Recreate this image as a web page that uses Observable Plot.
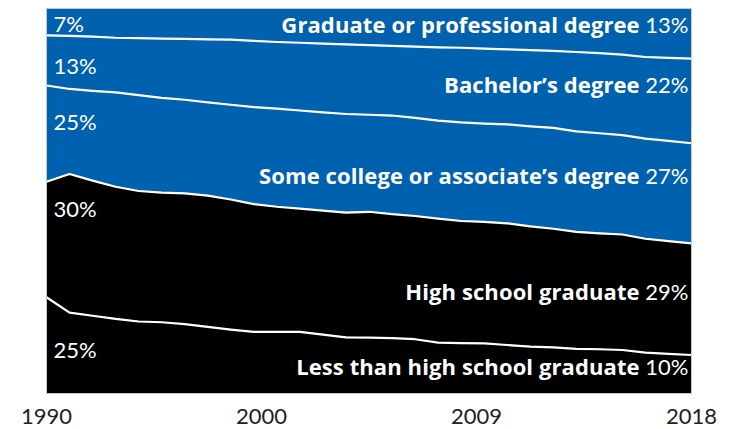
<!DOCTYPE html>
<html><head><meta charset="utf-8">
<script src="https://cdn.jsdelivr.net/npm/d3@7"></script>
<script src="https://cdn.jsdelivr.net/npm/@observablehq/plot@0.6"></script>
<style>
html,body{margin:0;padding:0;background:#fff;}
#chart svg{display:block;}
</style></head><body><div id="chart"></div>
<script>
const years = [1990,1991,1992,1993,1994,1995,1996,1997,1998,1999,2000,2001,2002,2003,2004,2005,2006,2007,2008,2009,2010,2011,2012,2013,2014,2015,2016,2017,2018];
const categories = ["Less than high school graduate","High school graduate","Some college or associate’s degree","Bachelor’s degree","Graduate or professional degree"];
const lessThanHS  = [25.0,21.0,20.2,19.4,18.7,18.5,18.0,17.3,16.6,16.0,16.0,16.0,15.3,14.6,14.5,14.4,14.1,13.2,13.1,13.0,12.6,12.2,12.0,11.6,11.5,11.3,10.6,10.3,10.0];
const highSchool  = [30.0,36.0,35.1,34.3,33.9,33.7,34.0,34.1,33.8,33.2,32.5,32.0,32.2,32.4,32.7,32.2,32.0,32.2,31.7,31.6,31.6,31.2,30.8,30.4,30.1,30.0,29.6,29.3,29.0];
const someCollege = [25.0,22.1,23.3,24.5,24.9,24.6,24.3,24.2,24.6,25.2,25.5,25.5,25.5,25.6,25.2,25.6,25.5,25.5,25.6,25.5,25.7,26.0,26.2,26.1,26.0,25.8,26.0,26.0,26.0];
const bachelors   = [13.0,13.8,14.1,14.2,14.8,15.4,15.8,16.4,16.9,17.2,17.3,17.6,17.9,18.1,18.1,18.1,18.5,19.0,19.4,19.5,19.5,19.8,20.0,20.6,20.8,20.9,21.2,21.6,22.0];
const graduate    = [7.0,7.1,7.3,7.6,7.7,7.8,7.9,8.0,8.1,8.4,8.7,8.9,9.1,9.3,9.5,9.7,9.9,10.1,10.2,10.4,10.6,10.8,11.0,11.3,11.6,12.0,12.6,12.8,13.0];
const startLabels = ["25%","30%","25%","13%","7%"];
const endLabels   = ["10%","29%","27%","22%","13%"];
const tickLabels  = ["1990","2000","2009","2018"];

// styling / layout config
const fills = ["#000000","#000000","#0061ae","#0061ae","#0061ae"];
const leftDy  = [6, -30, -11, 6, 2.5];
const rightDy = [-6, -6, -16, -15, -8];

const series = [lessThanHS, highSchool, someCollege, bachelors, graduate];
const rows = [];
categories.forEach((c, ci) => years.forEach((y, yi) => rows.push({year: y, category: c, value: series[ci][yi]})));

function mids(idx) {
  let acc = 0;
  return series.map(s => { const m = acc + s[idx] / 2; acc += s[idx]; return m; });
}
const first = mids(0), last = mids(years.length - 1);
const leftLabelMarks = categories.map((c, i) => Plot.text([{year: years[0], y: first[i], t: startLabels[i]}], {
  x: "year", y: "y", text: "t", textAnchor: "start", dx: 7, dy: leftDy[i], fill: "white", fontSize: 22, fontWeight: 400
}));
const rightLabelMarks = categories.map((c, i) => Plot.text([{year: years[years.length-1], y: last[i], t: c + " " + endLabels[i]}], {
  x: "year", y: "y", text: "t", textAnchor: "end", dx: -3, dy: rightDy[i], fill: "white", fontSize: 22, ariaDescription: "rlabel"
}));

const x0 = years[0], x1 = years[years.length - 1];
const tickValues = tickLabels.map((_, i) => x0 + i * (x1 - x0) / (tickLabels.length - 1));

const chart = Plot.plot({
  width: 732, height: 429,
  marginLeft: 46, marginRight: 41, marginTop: 8, marginBottom: 36,
  style: {fontFamily: "Lato, sans-serif", background: "#fff"},
  x: {domain: [x0, x1]},
  y: {domain: [0, 100]},
  color: {domain: categories, range: fills},
  marks: [
    Plot.areaY(rows, {x: "year", y: "value", z: "category", fill: "category", order: categories}),
    Plot.lineY(rows, Plot.stackY2({x: "year", y: "value", z: "category", order: categories,
      stroke: "white", strokeWidth: 2.2, strokeOpacity: d => d.category === categories[4] ? 0 : 1})),
    Plot.frame({stroke: "#c9c9c9", strokeWidth: 1}),
    ...leftLabelMarks,
    ...rightLabelMarks,
    Plot.axisX({ticks: tickValues, tickFormat: (d, i) => tickLabels[i], tickSize: 0, tickPadding: 15, fontSize: 22, fill: "#222", label: null}),
    Plot.axisY({ticks: []})
  ]
});
document.getElementById("chart").appendChild(chart);

// Split right labels into bold name + regular percentage
chart.querySelectorAll('g[aria-description="rlabel"] text').forEach(t => {
  const s = t.textContent;
  const k = s.lastIndexOf(" ");
  const name = s.slice(0, k), pct = s.slice(k);
  while (t.firstChild) t.removeChild(t.firstChild);
  const a = document.createElementNS("http://www.w3.org/2000/svg", "tspan");
  a.setAttribute("font-weight", "700"); a.setAttribute("font-family", "'Open Sans', sans-serif");
  a.setAttribute("letter-spacing", "0.1"); a.textContent = name;
  const b = document.createElementNS("http://www.w3.org/2000/svg", "tspan");
  b.setAttribute("font-weight", "400"); b.textContent = pct;
  t.appendChild(a); t.appendChild(b);
});
</script></body></html>
